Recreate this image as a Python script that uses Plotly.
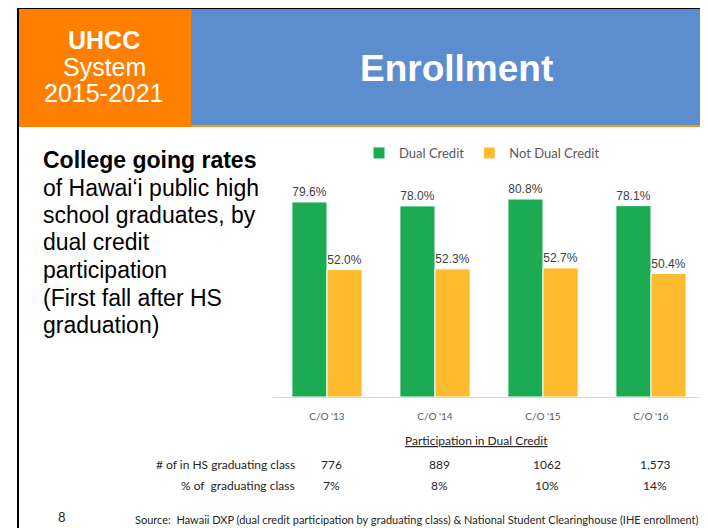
import plotly.graph_objects as go

# chart values
classes = ["C/O '13", "C/O '14", "C/O '15", "C/O '16"]
dual_credit = [79.6, 78.0, 80.8, 78.1]
not_dual_credit = [52.0, 52.3, 52.7, 50.4]
grad_count = ["776", "889", "1062", "1,573"]
grad_share = ["7%", "8%", "10%", "14%"]

side_lines = ["<b>College going rates</b>", "of Hawai\u2018i public high", "school graduates, by",
              "dual credit", "participation", "(First fall after HS", "graduation)"]
badge_lines = ["<b>UHCC</b>", "System", "2015-2021"]

# the page body keeps an 8px margin, so the figure sits at (8, 8)
OFF = 8
W, H = 708 - OFF, 528 - OFF


def px(x):
    return (x - OFF) / W


def py(y):
    return 1 - (y - OFF) / H


fig = go.Figure()

fig.add_trace(go.Bar(x=classes, y=dual_credit, name="Dual Credit",
                     marker=dict(color="#1CAA52", line=dict(color="white", width=1)),
                     text=[f"{v:.1f}%" for v in dual_credit], textposition="outside",
                     textfont=dict(family="Liberation Sans", size=12, color="#404040"),
                     cliponaxis=False))
fig.add_trace(go.Bar(x=classes, y=not_dual_credit, name="Not Dual Credit",
                     marker=dict(color="#FDBB2D", line=dict(color="white", width=1)),
                     text=[f"{v:.1f}%" for v in not_dual_credit], textposition="outside",
                     textfont=dict(family="Liberation Sans", size=12, color="#404040"),
                     cliponaxis=False))

# slide frame and header
shapes = [
    dict(type="rect", x0=px(19), x1=1, y0=py(127), y1=py(125), fillcolor="#F7941D"),
    dict(type="rect", x0=px(19), x1=px(191), y0=py(127), y1=py(9), fillcolor="#FF7F00"),
    dict(type="rect", x0=px(191), x1=1, y0=py(125), y1=py(9), fillcolor="#5B8DCF"),
    dict(type="rect", x0=px(17), x1=1, y0=py(9), y1=py(7), fillcolor="black"),
    dict(type="rect", x0=px(17), x1=px(19), y0=0, y1=py(7), fillcolor="black"),
]
for s in shapes:
    s.update(xref="paper", yref="paper", line=dict(width=0), layer="below")

ann = []
for i, t in enumerate(badge_lines):
    ann.append(dict(x=px(104), y=py(39.5 + 27 * i), text=t,
                    font=dict(family="Liberation Sans", size=25, color="white")))
ann.append(dict(x=px(456), y=py(68), text="<b>Enrollment</b>",
                font=dict(family="Liberation Sans", size=37, color="white")))
for i, t in enumerate(side_lines):
    ann.append(dict(x=px(41), y=py(160 + 27.5 * i), xanchor="left", text=t,
                    font=dict(family="Liberation Sans", size=23, color="black")))

dark = dict(family="Lato", size=12, color="#262626")
ann += [
    dict(x=px(476), y=py(440), text="<u>Participation in Dual Credit</u>", font=dark),
    dict(x=px(297), y=py(464), xanchor="right", text="# of in HS graduating class", font=dark),
    dict(x=px(297), y=py(485), xanchor="right", text="% of  graduating class", font=dark),
    dict(x=px(62), y=py(517), text="8", font=dict(family="Lato", size=13, color="#262626")),
    dict(x=px(133), y=py(519), xanchor="left",
         text="Source:  Hawaii DXP (dual credit participation by graduating class) & National Student Clearinghouse (IHE enrollment)",
         font=dict(family="Lato", size=11, color="#262626")),
]
for c, n, s in zip(classes, grad_count, grad_share):
    ann.append(dict(x=c, xref="x", y=py(464), text=n, xshift=4, font=dark))
    ann.append(dict(x=c, xref="x", y=py(485), text=s, xshift=4, font=dark))
for a in ann:
    a.setdefault("xref", "paper")
    a.update(yref="paper", showarrow=False)
    a.setdefault("xanchor", "center")
    a.setdefault("yanchor", "middle")

fig.update_layout(
    width=W, height=H, margin=dict(l=0, r=0, t=0, b=0),
    paper_bgcolor="white", plot_bgcolor="white",
    barmode="group", bargap=0.35, bargroupgap=0,
    shapes=shapes, annotations=ann,
    legend=dict(orientation="h", x=px(482), xanchor="center", y=py(153), yanchor="middle",
                font=dict(family="Lato", size=13, color="#595959"), itemwidth=30),
    xaxis=dict(domain=[px(273), px(705)], showline=True, linecolor="#D9D9D9", linewidth=1,
               tickfont=dict(family="Lato", size=10, color="#595959"), ticklabelstandoff=10,
               showgrid=False),
    yaxis=dict(domain=[py(397), py(152)], range=[0, 100], visible=False, showgrid=False),
)

fig.write_html("out.html")
